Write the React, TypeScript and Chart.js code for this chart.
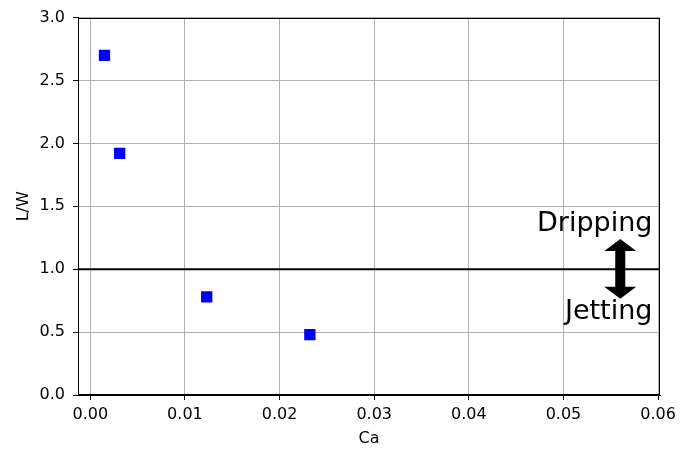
import React, { useEffect, useRef } from "react";
import { Chart, registerables } from "chart.js";

Chart.register(...registerables);

// Data
const caValues = [0.0015, 0.0031, 0.0123, 0.0232];
const lwValues = [2.7, 1.92, 0.78, 0.48];
const xTickValues = [0, 0.01, 0.02, 0.03, 0.04, 0.05, 0.06];
const yTickValues = [0, 0.5, 1.0, 1.5, 2.0, 2.5, 3.0];
const xRange = [-0.0013, 0.0602];
const yRange = [0, 3];
const thresholdLW = 1.0;
const arrowX = 0.056;
const arrowTop = 1.24;
const arrowBottom = 0.765;
const labelDripping = { text: "Dripping", x: 0.0594, y: 1.304 };
const labelJetting = { text: "Jetting", x: 0.0594, y: 0.601 };

const FONT = "'DejaVu Sans', sans-serif";

const overlayPlugin = {
  id: "overlay",
  afterDatasetsDraw(chart: any) {
    const { ctx, chartArea, scales } = chart;
    const xs = scales.x;
    const ys = scales.y;
    ctx.save();
    // threshold line
    const yl = ys.getPixelForValue(thresholdLW);
    ctx.strokeStyle = "#000";
    ctx.lineWidth = 2;
    ctx.beginPath();
    ctx.moveTo(chartArea.left, yl);
    ctx.lineTo(chartArea.right, yl);
    ctx.stroke();

    // double arrow
    const ax = xs.getPixelForValue(arrowX);
    const t = ys.getPixelForValue(arrowTop);
    const b = ys.getPixelForValue(arrowBottom);
    const headLen = 12;
    const headHalf = 16;
    const shaftHalf = 5;
    ctx.fillStyle = "#000";
    ctx.beginPath();
    ctx.moveTo(ax, t);
    ctx.lineTo(ax + headHalf, t + headLen);
    ctx.lineTo(ax + shaftHalf, t + headLen);
    ctx.lineTo(ax + shaftHalf, b - headLen);
    ctx.lineTo(ax + headHalf, b - headLen);
    ctx.lineTo(ax, b);
    ctx.lineTo(ax - headHalf, b - headLen);
    ctx.lineTo(ax - shaftHalf, b - headLen);
    ctx.lineTo(ax - shaftHalf, t + headLen);
    ctx.lineTo(ax - headHalf, t + headLen);
    ctx.closePath();
    ctx.fill();

    // labels
    ctx.font = "27px " + FONT;
    ctx.textAlign = "right";
    ctx.textBaseline = "alphabetic";
    ctx.fillStyle = "#000";
    for (const l of [labelDripping, labelJetting]) {
      ctx.fillText(l.text, xs.getPixelForValue(l.x), ys.getPixelForValue(l.y));
    }
    ctx.restore();
  },
  afterDraw(chart: any) {
    const { ctx, chartArea } = chart;
    ctx.save();
    ctx.strokeStyle = "#000";
    ctx.lineWidth = 1;
    ctx.strokeRect(
      Math.round(chartArea.left) + 0.5,
      Math.round(chartArea.top) + 0.5,
      Math.round(chartArea.right - chartArea.left) - 1,
      Math.round(chartArea.bottom - chartArea.top) - 1
    );
    ctx.restore();
  },
};

export default function App() {
  const ref = useRef<HTMLCanvasElement>(null);
  useEffect(() => {
    if (!ref.current) return;
    const chart = new Chart(ref.current, {
      type: "scatter",
      data: {
        datasets: [
          {
            data: caValues.map((x, i) => ({ x, y: lwValues[i] })),
            pointStyle: "rect",
            pointRadius: 8,
            pointHoverRadius: 8,
            backgroundColor: "#0000ff",
            borderColor: "#0000ff",
            borderWidth: 0,
          },
        ],
      },
      options: {
        responsive: false,
        animation: false,
        events: [],
        layout: { padding: { top: 17, right: 34, left: 0, bottom: 0 } },
        plugins: { legend: { display: false }, tooltip: { enabled: false } },
        scales: {
          x: {
            type: "linear",
            min: xRange[0],
            max: xRange[1],
            afterBuildTicks: (s: any) => {
              s.ticks = xTickValues.map((v) => ({ value: v }));
            },
            afterFit: (s: any) => {
              s.height = 55;
            },
            ticks: {
              autoSkip: false,
              maxRotation: 0,
              padding: 5,
              color: "#000",
              font: { family: FONT, size: 16 },
              callback: (v: any) => Number(v).toFixed(2),
            },
            grid: { color: "#b0b0b0", lineWidth: 1, tickColor: "#000", tickLength: 5 },
            border: { color: "#000", width: 1 },
            title: {
              display: true,
              text: "Ca",
              color: "#000",
              font: { family: FONT, size: 16 },
              padding: { top: 0, bottom: 2 },
            },
          },
          y: {
            type: "linear",
            min: yRange[0],
            max: yRange[1],
            afterBuildTicks: (s: any) => {
              s.ticks = yTickValues.map((v) => ({ value: v }));
            },
            afterFit: (s: any) => {
              s.width = 78;
            },
            ticks: {
              autoSkip: false,
              padding: 8,
              color: "#000",
              font: { family: FONT, size: 16 },
              callback: (v: any) => Number(v).toFixed(1),
            },
            grid: { color: "#b0b0b0", lineWidth: 1, tickColor: "#000", tickLength: 5 },
            border: { color: "#000", width: 1 },
            title: {
              display: true,
              text: "L/W",
              color: "#000",
              font: { family: FONT, size: 16 },
              padding: { top: 14, bottom: 0 },
            },
          },
        },
      },
      plugins: [overlayPlugin],
    });
    return () => chart.destroy();
  }, []);
  return (
    <canvas
      ref={ref}
      width={694}
      height={450}
      style={{ position: "absolute", left: 0, top: 0, width: 694, height: 450 }}
    />
  );
}
